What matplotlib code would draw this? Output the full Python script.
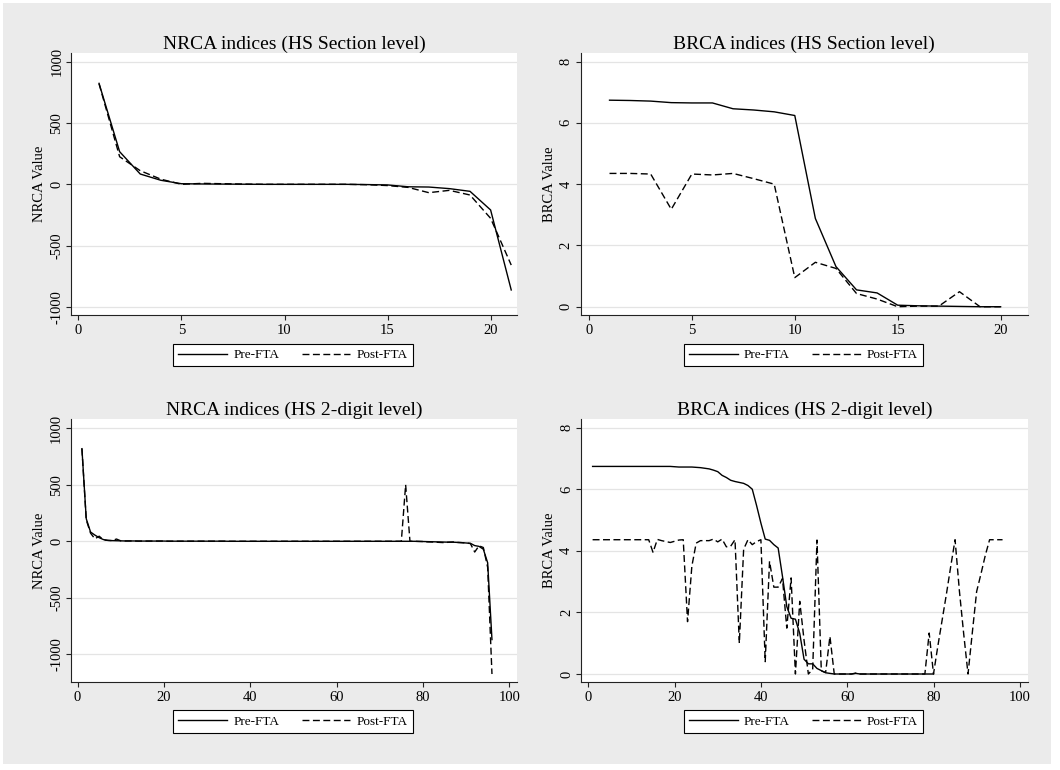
import matplotlib
matplotlib.use("Agg")
import matplotlib.pyplot as plt
from matplotlib.patches import Rectangle
from matplotlib.lines import Line2D

# HS Section level (x = 1..21 / 1..20)
sec_nrca_pre = [823, 266, 84, 33, 5, 3, 2, 1, 0, 0, 0, 0, 0, -2, -5, -20, -22, -35, -57, -209, -861]
sec_nrca_post = [820, 225, 111, 42, 0, 8, 5, 2, 0, 0, 0, 0, 0, -3, -10, -25, -68, -49, -87, -277, -658]
sec_brca_pre = [6.74, 6.73, 6.71, 6.66, 6.65, 6.65, 6.46, 6.42, 6.36, 6.24,
                2.88, 1.31, 0.55, 0.45, 0.05, 0.03, 0.02, 0.01, 0.0, 0.0]
sec_brca_post = [4.35, 4.35, 4.33, 3.18, 4.33, 4.30, 4.35, 4.18, 4.0, 0.95,
                 1.45, 1.25, 0.43, 0.25, 0.0, 0.02, 0.02, 0.49, 0.0, 0.0]

# HS 2-digit level (x = 1..96, BRCA pre only to 80)
hs2_nrca_pre = [820, 200, 82, 55, 32, 15, 8, 6, 5, 4,
                3, 3, 3, 2, 2, 2, 2, 2, 2, 2,
                1, 1, 1, 1, 1, 1, 1, 1, 1, 1,
                1, 1, 1, 1, 0, 0, 0, 0, 0, 0,
                0, 0, 0, 0, 0, 0, 0, 0, 0, 0,
                0, 0, 0, 0, 0, 0, 0, 0, 0, 0,
                0, 0, 0, 0, 0, 0, 0, 0, 0, 0,
                0, 0, 0, 0, 0, 0, 0, 0, -1, -2,
                -3, -4, -5, -6, -7, -8, -8, -10, -12, -15,
                -18, -38, -45, -70, -190, -870]
hs2_nrca_post = [820, 190, 72, 22, 45, 12, 8, 6, 20, 4,
                 3, 3, 3, 2, 2, 2, 2, 2, 2, 2,
                 1, 1, 1, 1, 1, 1, 1, 1, 1, 1,
                 1, 1, 1, 1, 0, 0, 0, 0, 0, 0,
                 0, 0, 0, 0, 0, 0, 0, 0, 0, 0,
                 0, 0, 0, 0, 0, 0, 0, 0, 0, 0,
                 0, 0, 0, 0, 0, 0, 0, 0, 0, 0,
                 0, 0, 0, 0, 0, 500, 0, 0, -1, -2,
                 -5, -6, -8, -10, -12, -8, -6, -10, -12, -15,
                 -20, -95, -40, -55, -230, -1175]
hs2_brca_pre = [6.74, 6.74, 6.74, 6.74, 6.74, 6.74, 6.74, 6.74, 6.74, 6.74,
                6.74, 6.74, 6.74, 6.74, 6.74, 6.74, 6.74, 6.74, 6.74, 6.73,
                6.72, 6.72, 6.72, 6.72, 6.71, 6.70, 6.68, 6.66, 6.62, 6.57,
                6.45, 6.38, 6.29, 6.25, 6.22, 6.19, 6.12, 6.0, 5.47, 4.9,
                4.38, 4.34, 4.2, 4.09, 3.17, 2.19, 1.81, 1.78, 1.32, 0.48,
                0.33, 0.33, 0.18, 0.11, 0.04, 0.02, 0.0, 0.0, 0.0, 0.0,
                0.0, 0.02, 0.0, 0.0, 0.0, 0.0, 0.0, 0.0, 0.0, 0.0,
                0.0, 0.0, 0.0, 0.0, 0.0, 0.0, 0.0, 0.0, 0.0, 0.0]
hs2_brca_post = [4.36, 4.36, 4.36, 4.36, 4.36, 4.36, 4.36, 4.36, 4.36, 4.36,
                 4.36, 4.36, 4.36, 4.36, 3.95, 4.37, 4.33, 4.30, 4.27, 4.31,
                 4.35, 4.36, 1.70, 3.50, 4.25, 4.33, 4.33, 4.33, 4.38, 4.29,
                 4.38, 4.13, 4.15, 4.36, 1.0, 4.05, 4.36, 4.2, 4.3, 4.36,
                 0.4, 3.66, 2.82, 2.82, 3.1, 1.49, 3.12, 0.0, 2.36, 1.1,
                 0.0, 0.15, 4.35, 0.1, 0.05, 1.22, 0.0, 0.0, 0.0, 0.0,
                 0.0, 0.03, 0.0, 0.0, 0.0, 0.0, 0.0, 0.0, 0.0, 0.0,
                 0.0, 0.0, 0.0, 0.0, 0.0, 0.0, 0.0, 0.0, 1.33, 0.0,
                 0.9, 1.75, 2.6, 3.5, 4.36, 2.7, 1.3, 0.0, 1.35, 2.68,
                 3.25, 3.85, 4.36, 4.36, 4.36, 4.36]

nrca_ticks = [-1000, -500, 0, 500, 1000]
brca_ticks = [0, 2, 4, 6, 8]

W, H = 1060, 770
BG = "#ebebeb"
FONT = "Liberation Serif"
plt.rcParams["font.family"] = [FONT, "DejaVu Serif"]


def px_rect(left, top, right, bottom):
    return [left / W, 1 - bottom / H, (right - left) / W, (bottom - top) / H]


def panel(fig, rect, pre, post, title, ylabel, xticks, yticks, xlim, ylim, leg_xy):
    ax = fig.add_axes(px_rect(*rect))
    ax.set_facecolor("white")
    x_pre = list(range(1, len(pre) + 1))
    x_post = list(range(1, len(post) + 1))
    ax.plot(x_pre, pre, color="black", lw=1.0)
    ax.plot(x_post, post, color="black", lw=1.0, dashes=(5, 2.5))
    ax.set_xlim(*xlim)
    ax.set_ylim(*ylim)
    ax.set_xticks(xticks)
    ax.set_xticklabels([str(t) for t in xticks], fontsize=10.5)
    ax.set_yticks(yticks)
    ax.set_yticklabels([str(t) for t in yticks], fontsize=10.5, rotation=90, va="center")
    for t in yticks:
        ax.axhline(t, color="#e4e4e4", lw=0.9, zorder=0)
    for s in ["top", "right"]:
        ax.spines[s].set_visible(False)
    for s in ["left", "bottom"]:
        ax.spines[s].set_color("#222222")
        ax.spines[s].set_linewidth(0.8)
    ax.tick_params(direction="out", length=3.5, width=0.8, color="#222222", pad=2)
    ax.tick_params(axis="x", pad=3)
    ax.set_title(title, fontsize=14, pad=3)
    ax.set_ylabel(ylabel, fontsize=10.5, labelpad=3)
    handles = [Line2D([], [], color="black", lw=1.0),
               Line2D([], [], color="black", lw=1.0, dashes=(5, 2.5))]
    leg = ax.legend(handles, ["Pre-FTA", "Post-FTA"], loc="center",
                    bbox_to_anchor=(leg_xy[0] / W, 1 - leg_xy[1] / H),
                    bbox_transform=fig.transFigure, ncol=2, fontsize=9.5,
                    frameon=True, fancybox=False, framealpha=1,
                    edgecolor="black", handlelength=3.7, handletextpad=0.45,
                    columnspacing=1.7, borderpad=0.4)
    leg.get_frame().set_linewidth(0.8)
    return ax


fig = plt.figure(figsize=(W / 100, H / 100), dpi=100)
fig.patch.set_facecolor("white")
fig.patches.append(Rectangle((3 / W, 6 / H), 1048 / W, 761 / H, transform=fig.transFigure,
                             facecolor=BG, edgecolor="none", zorder=-10))

panel(fig, (71, 53.3, 517, 315), sec_nrca_pre, sec_nrca_post,
      "NRCA indices (HS Section level)", "NRCA Value", [0, 5, 10, 15, 20],
      nrca_ticks, (-0.36, 21.28), (-1065, 1068), (293, 355))
panel(fig, (580.5, 53.3, 1028, 315), sec_brca_pre, sec_brca_post,
      "BRCA indices (HS Section level)", "BRCA Value", [0, 5, 10, 15, 20],
      brca_ticks, (-0.41, 21.33), (-0.27, 8.27), (803.5, 355))
panel(fig, (70.7, 419.3, 517, 681.7), hs2_nrca_pre, hs2_nrca_post,
      "NRCA indices (HS 2-digit level)", "NRCA Value", [0, 20, 40, 60, 80, 100],
      nrca_ticks, (-1.6, 101.8), (-1243, 1080), (293, 721.7))
panel(fig, (580.7, 419.3, 1028, 681.7), hs2_brca_pre, hs2_brca_post,
      "BRCA indices (HS 2-digit level)", "BRCA Value", [0, 20, 40, 60, 80, 100],
      brca_ticks, (-1.76, 101.9), (-0.25, 8.27), (803.5, 721.7))

fig.savefig("out.png", dpi=100)
